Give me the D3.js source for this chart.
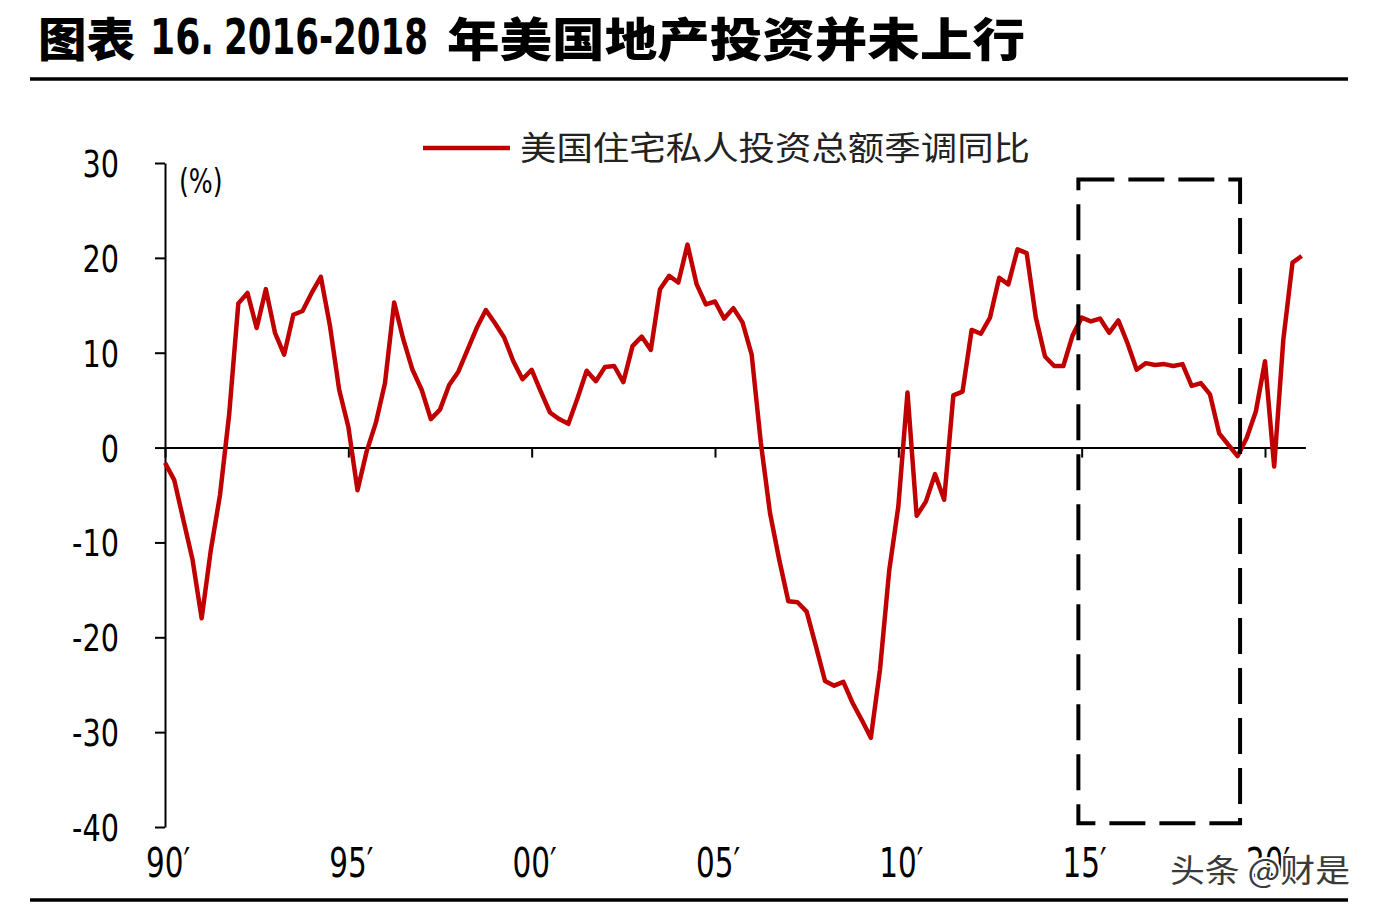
<!DOCTYPE html>
<html>
<head>
<meta charset="utf-8">
<title></title>
<style>
body{ margin:0; background:#fff; }
.line{
	fill: none;
	stroke: #c00000;
	stroke-width: 4.5px;
	stroke-linejoin: round;
}
.axis path, .axis line{ stroke:#000; stroke-width:2px; }
.axis text{ display:none; }
.num{ font-family:"DejaVu Sans Condensed","DejaVu Sans",sans-serif; fill:#000; }
.cjk{ font-family:"Noto Sans CJK SC",sans-serif; }
</style>
<script src="https://d3js.org/d3.v7.min.js" charset="utf-8"></script>
</head>
<body>
<svg id="chart" width="1378" height="914"></svg>
<script>
// quarterly yoy %, 1990Q1 .. 2021Q1
var startYear = 1990;
var yoy = [
	-1.6, -3.4, -7.6, -11.8, -18.0, -10.8, -5.0, 3.5,
	15.2, 16.3, 12.6, 16.7, 12.1, 9.8, 14.0, 14.4,
	16.3, 18.0, 12.8, 6.1, 2.2, -4.5, -0.4, 2.6,
	6.8, 15.3, 11.4, 8.2, 6.1, 3.0, 4.0, 6.6,
	8.0, 10.3, 12.6, 14.5, 13.1, 11.6, 9.1, 7.2,
	8.2, 5.9, 3.7, 3.0, 2.5, 5.2, 8.1, 7.0,
	8.5, 8.6, 6.9, 10.7, 11.7, 10.3, 16.7, 18.1,
	17.4, 21.4, 17.2, 15.1, 15.4, 13.6, 14.7, 13.2,
	9.8, 0.5, -6.9, -11.8, -16.2, -16.3, -17.3, -20.9,
	-24.6, -25.1, -24.7, -26.9, -28.7, -30.6, -23.4, -13.0,
	-6.2, 5.8, -7.2, -5.7, -2.8, -5.5, 5.5, 5.9,
	12.4, 12.0, 13.7, 17.9, 17.2, 20.9, 20.5, 13.7,
	9.6, 8.6, 8.6, 11.8, 13.7, 13.3, 13.6, 12.1,
	13.4, 11.0, 8.2, 8.9, 8.7, 8.8, 8.6, 8.8,
	6.5, 6.8, 5.6, 1.5, 0.3, -0.9, 1.0, 3.8,
	9.1, -2.0, 11.4, 19.5, 20.2
];
var xTickYears = [1990, 1995, 2000, 2005, 2010, 2015, 2020];
var xTickLabels = ["90′", "95′", "00′", "05′", "10′", "15′", "20′"];
var yTicks = [-40, -30, -20, -10, 0, 10, 20, 30];
var seriesName = "美国住宅私人投资总额季调同比";
var titleParts = ["图表", "16.", "2016-2018", "年美国地产投资并未上行"];
// highlighted period (dashed box)
var boxYears = [2014.91, 2019.32];
var boxValues = [28.25, -39.6];

var data = yoy.map(function(v, i){ return {t: startYear + i / 4, v: v}; });

var svg = d3.select('#chart');
svg.append('rect').attr('width', 1378).attr('height', 914).attr('fill', '#fff');

var x = d3.scaleLinear().domain([1990, 2021.1]).range([165, 165 + 31.1 * 36.667]);
var y = d3.scaleLinear().domain([-40, 30]).range([827, 163]);

// title + rules
var title = svg.append('g');
title.append('text').attr('class', 'cjk').attr('x', 38).attr('y', 56)
	.attr('font-size', 46).attr('font-weight', 900)
	.attr('textLength', 97).attr('lengthAdjust', 'spacingAndGlyphs').text(titleParts[0]);
title.append('text').attr('class', 'num').attr('x', 150).attr('y', 54)
	.attr('font-size', 50).attr('font-weight', 'bold')
	.attr('textLength', 64).attr('lengthAdjust', 'spacingAndGlyphs').text(titleParts[1]);
title.append('text').attr('class', 'num').attr('x', 224).attr('y', 54)
	.attr('font-size', 50).attr('font-weight', 'bold')
	.attr('textLength', 204).attr('lengthAdjust', 'spacingAndGlyphs').text(titleParts[2]);
title.append('text').attr('class', 'cjk').attr('x', 447).attr('y', 56)
	.attr('font-size', 46).attr('font-weight', 900)
	.attr('textLength', 578).attr('lengthAdjust', 'spacingAndGlyphs').text(titleParts[3]);

svg.append('line').attr('x1', 30).attr('x2', 1348).attr('y1', 79).attr('y2', 79)
	.attr('stroke', '#000').attr('stroke-width', 3.5);
svg.append('line').attr('x1', 30).attr('x2', 1348).attr('y1', 900).attr('y2', 900)
	.attr('stroke', '#000').attr('stroke-width', 3.5);

// legend
svg.append('line').attr('x1', 423).attr('x2', 510).attr('y1', 148).attr('y2', 148)
	.attr('stroke', '#c00000').attr('stroke-width', 4.5);
svg.append('text').attr('class', 'cjk').attr('x', 520).attr('y', 160)
	.attr('font-size', 33).attr('fill', '#222')
	.attr('textLength', 510).attr('lengthAdjust', 'spacingAndGlyphs').text(seriesName);

// axes
svg.append('g').attr('class', 'axis')
	.attr('transform', 'translate(' + x(1990) + ',0)')
	.call(d3.axisLeft(y).tickValues(yTicks).tickSize(10).tickSizeOuter(0));
svg.append('g').attr('class', 'axis')
	.attr('transform', 'translate(0,' + y(0) + ')')
	.call(d3.axisBottom(x).tickValues(xTickYears).tickSize(10).tickSizeOuter(0));

svg.append('g').selectAll('text').data(yTicks).enter().append('text')
	.attr('class', 'num').attr('font-size', 38).attr('text-anchor', 'end')
	.attr('transform', function(d){ return 'translate(119,' + (y(d) + 14) + ') scale(0.84,1)'; })
	.text(function(d){ return d; });

svg.append('g').selectAll('text').data(xTickYears).enter().append('text')
	.attr('class', 'num').attr('font-size', 40).attr('text-anchor', 'middle')
	.attr('transform', function(d){ return 'translate(' + (x(d) + 3) + ',877) scale(0.82,1)'; })
	.text(function(d, i){ return xTickLabels[i]; });

svg.append('text').attr('class', 'num').attr('font-size', 33)
	.attr('transform', 'translate(179,193) scale(0.85,1)').text('(%)');

// series
var line = d3.line()
	.x(function(d){ return x(d.t); })
	.y(function(d){ return y(d.v); });
svg.append('path').datum(data).attr('class', 'line').attr('d', line);

// dashed box
svg.append('rect')
	.attr('x', x(boxYears[0])).attr('y', y(boxValues[0]))
	.attr('width', x(boxYears[1]) - x(boxYears[0]))
	.attr('height', y(boxValues[1]) - y(boxValues[0]))
	.attr('fill', 'none').attr('stroke', '#000').attr('stroke-width', 4)
	.attr('stroke-dasharray', '36,14');

// watermark (sits over the 20' label as in the source image)
svg.append('text').attr('class', 'cjk').attr('x', 1170).attr('y', 882)
	.attr('font-size', 32).attr('fill', '#3a3a3a')
	.attr('stroke', '#fff').attr('stroke-width', 4).attr('paint-order', 'stroke')
	.attr('textLength', 180).attr('lengthAdjust', 'spacingAndGlyphs').text('头条 @财是');
</script>
</body>
</html>
